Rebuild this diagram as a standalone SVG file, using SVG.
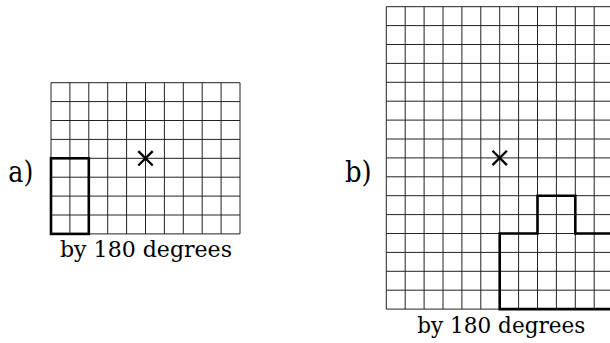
<svg xmlns="http://www.w3.org/2000/svg" width="610" height="343" viewBox="0 0 610 343">
<style>
.grid{fill:none;stroke:#222;stroke-width:1}
.thick{fill:none;stroke:#000;stroke-width:2.6;stroke-linejoin:miter;stroke-linecap:square}
.cross{stroke:#000;stroke-width:2.3;fill:none}
text{fill:#000;font-family:"DejaVu Serif",serif}
.lab{font-size:29px}
.cap{font-size:23px}
</style>
<rect width="610" height="343" fill="#fff"/>
<g id="figure-a">
<path class="grid" d="M51 82.7V233.9M69.9 82.7V233.9M88.8 82.7V233.9M107.7 82.7V233.9M126.6 82.7V233.9M145.5 82.7V233.9M164.4 82.7V233.9M183.3 82.7V233.9M202.2 82.7V233.9M221.1 82.7V233.9M240 82.7V233.9M51 82.7H240M51 101.6H240M51 120.5H240M51 139.4H240M51 158.3H240M51 177.2H240M51 196.1H240M51 215H240M51 233.9H240"/>
<rect class="thick" x="51" y="158.3" width="37.8" height="75.6"/>
<path class="cross" d="M138.3 151.1L152.7 165.5M152.7 151.1L138.3 165.5"/>
<text class="lab" x="8.3" y="182" textLength="25" lengthAdjust="spacingAndGlyphs">a)</text>
<text class="cap" x="60" y="256.7" textLength="172" lengthAdjust="spacingAndGlyphs">by 180 degrees</text>
</g>
<g id="figure-b">
<path class="grid" d="M386.3 6.7V309.1M405.2 6.7V309.1M424.1 6.7V309.1M443 6.7V309.1M461.9 6.7V309.1M480.8 6.7V309.1M499.7 6.7V309.1M518.6 6.7V309.1M537.5 6.7V309.1M556.4 6.7V309.1M575.3 6.7V309.1M594.2 6.7V309.1M613.1 6.7V309.1M386.3 6.7H613.1M386.3 25.6H613.1M386.3 44.5H613.1M386.3 63.4H613.1M386.3 82.3H613.1M386.3 101.2H613.1M386.3 120.1H613.1M386.3 139H613.1M386.3 157.9H613.1M386.3 176.8H613.1M386.3 195.7H613.1M386.3 214.6H613.1M386.3 233.5H613.1M386.3 252.4H613.1M386.3 271.3H613.1M386.3 290.2H613.1M386.3 309.1H613.1"/>
<path class="thick" d="M614 233.5H575.3V195.7H537.5V233.5H499.7V309.1H614"/>
<path class="cross" d="M492.5 150.7L506.9 165.1M506.9 150.7L492.5 165.1"/>
<text class="lab" x="345" y="182" textLength="26.7" lengthAdjust="spacingAndGlyphs">b)</text>
<text class="cap" x="417.3" y="332.7" textLength="168" lengthAdjust="spacingAndGlyphs">by 180 degrees</text>
</g>
</svg>
